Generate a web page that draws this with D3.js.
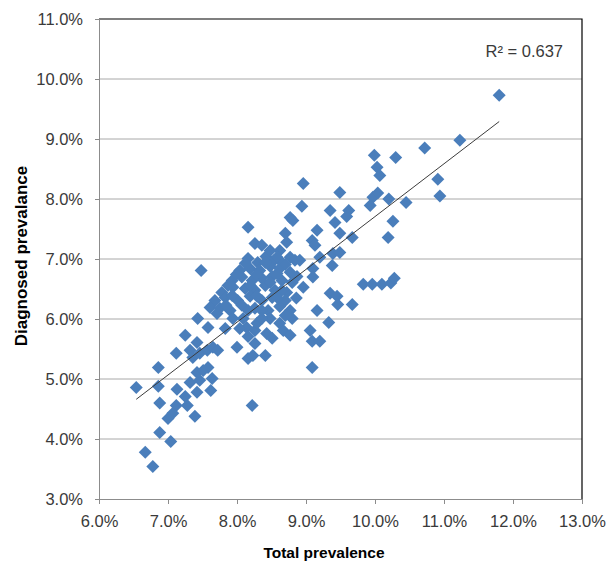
<!DOCTYPE html>
<html>
<head>
<meta charset="utf-8">
<script src="https://cdn.jsdelivr.net/npm/d3@7"></script>
<style>
  html, body { margin: 0; padding: 0; background: #fff; }
  svg { display: block; }
  .axis text { font-family: 'Liberation Sans', Arial, sans-serif; font-size: 16.5px; fill: #3a3a3a; }
  .title { font-family: 'Liberation Sans', Arial, sans-serif; font-weight: bold; fill: #000; }
</style>
</head>
<body>
<div id="container"></div>
<script>
// total prevalence (%) and diagnosed prevalence (%) for each area
const totalPrev = [
  6.54, 6.86, 7.13, 7.32, 7.46, 7.64, 7.25, 7.42, 7.62, 6.88, 7.12, 7.07, 7.28, 7.00, 7.39, 6.88, 7.04, 6.67, 6.78, 8.22,
  6.86, 7.42, 7.51, 7.58, 7.12, 7.25, 7.42, 7.32, 7.36, 7.46, 7.57, 7.65, 7.72, 8.00, 8.16, 8.23, 8.41, 8.14, 8.26, 8.43,
  7.43, 7.58, 7.71, 7.90, 7.48, 8.16,
  8.16, 8.30, 8.42, 8.54, 8.65, 8.77, 8.84, 8.91, 8.04, 8.19, 8.33, 8.48, 8.62, 8.77,
  7.93, 8.07, 8.22, 8.36, 8.51, 8.65, 8.80, 7.78, 7.94, 8.12, 8.26, 8.41, 8.55, 8.72,
  7.68, 7.83, 8.01, 8.19, 8.36, 8.51, 8.70, 8.86, 7.61, 7.75, 8.07, 8.26, 8.45, 8.62, 8.77,
  8.09, 8.29, 8.48, 8.62, 8.80, 7.83, 8.67, 8.51, 8.26,
  8.12, 8.41, 8.70, 7.99, 8.28, 8.58, 8.87, 7.87, 8.19, 8.48, 8.65, 7.93, 8.29, 8.59, 7.84,
  8.36, 8.16, 8.70, 7.94, 8.36, 8.16, 8.77, 8.04,
  8.26, 8.36, 8.48, 8.62, 8.58, 8.70, 8.72, 8.77, 8.81,
  8.96, 8.94, 9.16, 9.09, 9.13, 9.20, 9.39, 9.49, 9.38, 9.10, 9.10, 8.96, 9.35, 9.45, 9.46, 9.67, 9.16, 9.33,
  9.06, 9.09, 9.20, 9.09, 9.49, 9.67, 9.42, 9.35, 9.62, 9.59, 9.49, 9.83, 9.96, 10.10, 10.23, 10.28,
  9.99, 10.30, 10.03, 10.07, 9.97, 10.04, 9.93, 10.20, 10.45, 10.26, 10.19, 10.91, 10.94, 10.72, 11.23, 11.80
];
const diagPrev = [
  4.86, 4.88, 4.83, 4.94, 4.98, 5.01, 4.71, 4.78, 4.81, 4.60, 4.56, 4.43, 4.56, 4.34, 4.38, 4.11, 3.96, 3.78, 3.54, 4.56,
  5.19, 5.11, 5.14, 5.19, 5.43, 5.73, 5.61, 5.48, 5.36, 5.43, 5.48, 5.53, 5.48, 5.53, 5.34, 5.39, 5.39, 5.86, 5.81, 5.76,
  6.01, 5.86, 6.09, 6.14, 6.81, 7.53,
  7.01, 6.94, 7.04, 6.98, 6.94, 7.03, 6.98, 6.98, 6.81, 6.84, 6.81, 6.88, 6.84, 6.78,
  6.64, 6.70, 6.64, 6.68, 6.71, 6.64, 6.61, 6.44, 6.53, 6.51, 6.48, 6.56, 6.48, 6.44,
  6.31, 6.36, 6.31, 6.38, 6.31, 6.36, 6.31, 6.35, 6.19, 6.18, 6.23, 6.18, 6.14, 6.21, 6.14,
  6.01, 5.93, 6.01, 5.93, 6.01, 5.84, 5.81, 5.68, 5.59,
  6.93, 6.94, 6.91, 6.74, 6.74, 6.76, 6.71, 6.56, 6.56, 6.61, 6.48, 6.39, 6.38, 6.35, 6.23,
  6.14, 6.14, 6.06, 6.01, 6.01, 5.71, 5.73, 5.84,
  7.26, 7.23, 7.14, 7.14, 7.03, 7.43, 7.28, 7.69, 7.64,
  8.26, 7.88, 7.48, 7.31, 7.23, 7.03, 7.09, 7.11, 6.89, 6.84, 6.70, 6.53, 6.43, 6.38, 6.24, 6.24, 6.14, 5.94,
  5.81, 5.63, 5.63, 5.19, 7.43, 7.36, 7.61, 7.81, 7.81, 7.71, 8.11, 6.58, 6.58, 6.58, 6.60, 6.68,
  8.73, 8.69, 8.53, 8.39, 8.03, 8.10, 7.89, 8.00, 7.94, 7.63, 7.36, 8.33, 8.05, 8.85, 8.98, 9.73
];
const xTicks = [6, 7, 8, 9, 10, 11, 12, 13];
const yTicks = [3, 4, 5, 6, 7, 8, 9, 10, 11];
const xTitle = 'Total prevalence';
const yTitle = 'Diagnosed prevalance';
const r2Label = 'R² = 0.637';

const data = totalPrev.map((x, i) => ({ x, y: diagPrev[i] }));

const width = 606;
const height = 561;
const plotLeft = 99, plotRight = 582, plotTop = 19, plotBottom = 499;

const svg = d3.select('#container')
  .append('svg')
  .attr('width', width)
  .attr('height', height);

const xScale = d3.scaleLinear().domain([6, 13]).range([plotLeft, plotRight]);
const yScale = d3.scaleLinear().domain([3, 11]).range([plotBottom, plotTop]);
const fmt = (d) => d.toFixed(1) + '%';

// gridlines
svg.append('g')
  .selectAll('line')
  .data(yTicks.slice(1, -1))
  .join('line')
  .attr('x1', plotLeft)
  .attr('x2', plotRight)
  .attr('y1', (d) => yScale(d))
  .attr('y2', (d) => yScale(d))
  .attr('stroke', '#a8a8a8')
  .attr('stroke-width', 1);

// plot area border (top and right are black)
svg.append('path')
  .attr('d', `M${plotLeft},${plotTop}H${plotRight}V${plotBottom}`)
  .attr('fill', 'none')
  .attr('stroke', '#000')
  .attr('stroke-width', 1.2);

// axes
const yAxis = svg.append('g')
  .attr('class', 'axis')
  .attr('transform', `translate(${plotLeft},0)`)
  .call(d3.axisLeft(yScale).tickValues(yTicks).tickFormat(fmt).tickSize(4).tickPadding(12));
const xAxis = svg.append('g')
  .attr('class', 'axis')
  .attr('transform', `translate(0,${plotBottom})`)
  .call(d3.axisBottom(xScale).tickValues(xTicks).tickFormat(fmt).tickSize(5).tickPadding(11));
[xAxis, yAxis].forEach((a) => {
  a.select('.domain').attr('stroke', '#8c8c8c');
  a.selectAll('.tick line').attr('stroke', '#8c8c8c');
});

// points (diamonds)
svg.append('g')
  .selectAll('path')
  .data(data)
  .join('path')
  .attr('transform', (d) => `translate(${xScale(d.x)},${yScale(d.y)})`)
  .attr('d', 'M0,-6.5L6.5,0L0,6.5L-6.5,0Z')
  .attr('fill', '#4a7ebb');

// linear trendline (least squares)
const mx = d3.mean(data, (d) => d.x);
const my = d3.mean(data, (d) => d.y);
const slope = d3.sum(data, (d) => (d.x - mx) * (d.y - my)) / d3.sum(data, (d) => (d.x - mx) ** 2);
const intercept = my - slope * mx;
const [x0, x1] = d3.extent(data, (d) => d.x);
svg.append('path')
  .datum([x0, x1])
  .attr('d', d3.line().x((d) => xScale(d)).y((d) => yScale(intercept + slope * d)))
  .attr('stroke', '#3c3c3c')
  .attr('stroke-width', 1)
  .attr('fill', 'none');

// R² label
svg.append('text')
  .attr('x', 563)
  .attr('y', 57)
  .attr('text-anchor', 'end')
  .style('font-family', "'Liberation Sans', Arial, sans-serif")
  .style('font-size', '16.5px')
  .style('fill', '#3a3a3a')
  .text(r2Label);

// axis titles
svg.append('text')
  .attr('class', 'title')
  .attr('x', 324)
  .attr('y', 558)
  .attr('text-anchor', 'middle')
  .style('font-size', '15.5px')
  .text(xTitle);
svg.append('text')
  .attr('class', 'title')
  .attr('transform', 'translate(27,256) rotate(-90)')
  .attr('text-anchor', 'middle')
  .style('font-size', '17px')
  .text(yTitle);
</script>
</body>
</html>
